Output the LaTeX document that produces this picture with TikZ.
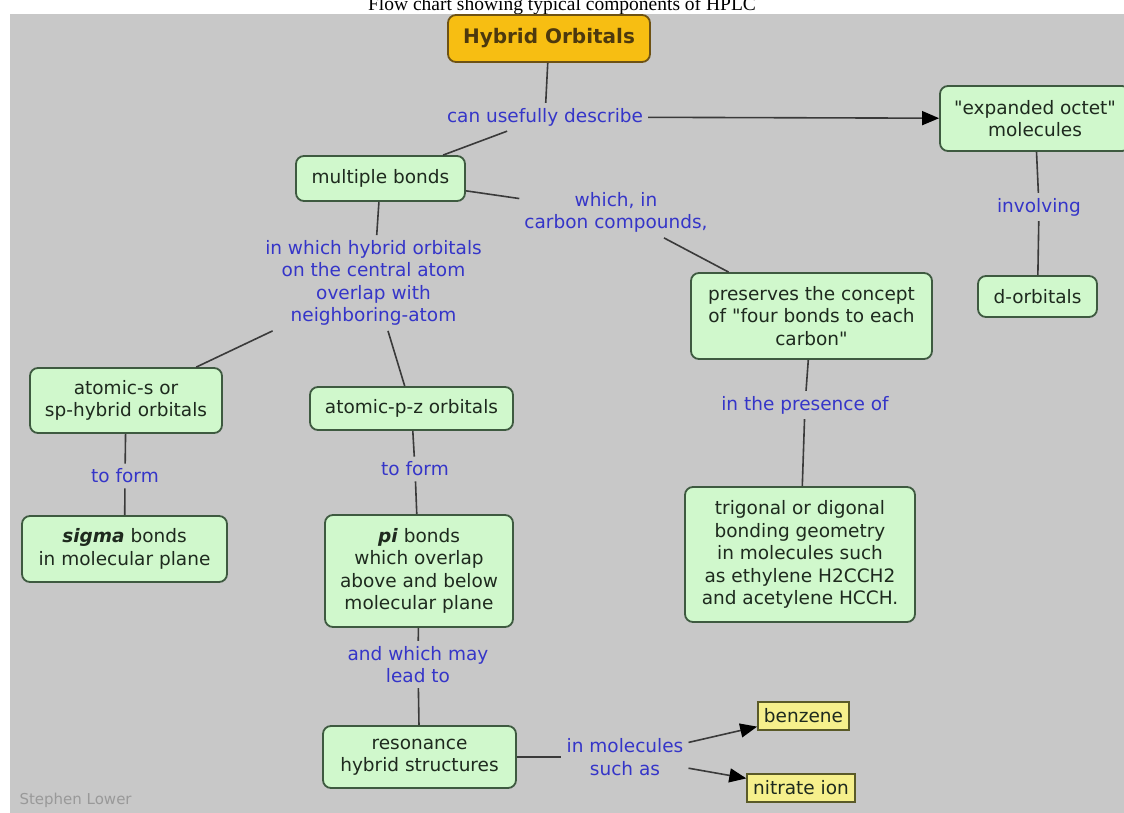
\documentclass[tikz,border=0pt]{standalone}
\usepackage{fontspec}
\setmainfont{DejaVu Sans}[Ligatures=TeXOff]
\newfontfamily\titlefont{Liberation Serif}
\usetikzlibrary{arrows.meta}
\definecolor{cbg}{HTML}{C8C8C8}
\definecolor{cgreen}{HTML}{D0F8CC}
\definecolor{cedge}{HTML}{3E5A40}
\definecolor{cblue}{HTML}{3535C8}
\definecolor{cink}{HTML}{1E2A1E}
\definecolor{corange}{HTML}{F7BE12}
\definecolor{cbrown}{HTML}{6E5214}
\definecolor{cyellow}{HTML}{F6F08C}
\definecolor{colive}{HTML}{5A5A28}
\definecolor{cline}{HTML}{3A3A3A}

\begin{document}
\begin{tikzpicture}[x=1pt,y=-1pt,>={Triangle[length=17pt,width=14pt,fill=black,color=black]},
  font=\fontsize{18.5}{22.5}\selectfont,
  concept/.style={draw=cedge,fill=cgreen,line width=1.8pt,rounded corners=8pt,text=cink,align=center,inner sep=2pt},
  topic/.style={draw=cbrown,fill=corange,line width=1.8pt,rounded corners=8pt,text=cbrown!70!black,font=\fontsize{20}{24}\selectfont\bfseries},
  example/.style={draw=colive,fill=cyellow,line width=1.6pt,text=cink,inner sep=6pt,minimum height=28pt},
  phrase/.style={text=cblue,align=center,inner sep=5pt},
  link/.style={draw=cline,line width=1.6pt}]

\useasboundingbox (0,0) rectangle (1124,813);
\fill[cbg] (10,14) rectangle (1124,813);
\node[anchor=base,font=\titlefont\fontsize{19.5}{22}\selectfont] (title) at (562,11) {Flow chart showing typical components of HPLC};

% ================= concepts =================
\node[topic,minimum width=202pt,minimum height=47pt] (hybrid) at (549,38.5) {Hybrid Orbitals};
\node[concept,minimum width=190pt,minimum height=65pt] (octet) at (1035,118.5) {"expanded octet"\\molecules};
\node[concept,minimum width=119pt,minimum height=41pt] (dorb) at (1037.5,296.5) {d-orbitals};
\node[concept,minimum width=169pt,minimum height=45pt] (multi) at (380.5,178.5) {multiple bonds};
\node[concept,minimum width=192pt,minimum height=65pt] (atomS) at (126,400.5) {atomic-s or\\sp-hybrid orbitals};
\node[concept,minimum width=203pt,minimum height=43pt] (atomP) at (411.5,408.5) {atomic-p-z orbitals};
\node[concept,minimum width=205pt,minimum height=66pt] (sigma) at (124.5,549) {\textbf{\textit{sigma}} bonds\\in molecular plane};
\node[concept,minimum width=188pt,minimum height=112pt] (pi) at (419,571) {\textbf{\textit{pi}} bonds\\which overlap\\above and below\\molecular plane};
\node[concept,minimum width=193pt,minimum height=62pt] (reson) at (419.5,757) {resonance\\hybrid structures};
\node[concept,minimum width=241pt,minimum height=86pt] (preserves) at (811.5,316) {preserves the concept\\of "four bonds to each\\carbon"};
\node[concept,minimum width=230pt,minimum height=135pt] (trigonal) at (800,554.5) {trigonal or digonal\\bonding geometry\\in molecules such\\as ethylene H2CCH2\\and acetylene HCCH.};
\node[example] (benzene) at (803.5,716) {benzene};
\node[example] (nitrate) at (801,788) {nitrate ion};

% ================= linking phrases =================
\node[phrase] (describe) at (545,117) {can usefully describe};
\node[phrase] (which) at (616,212.5) {which, in\\carbon compounds,};
\node[phrase] (inwhich) at (373.5,283) {in which hybrid orbitals\\on the central atom\\overlap with\\neighboring-atom};
\node[phrase] (formS) at (125,476) {to form};
\node[phrase] (formP) at (415,469) {to form};
\node[phrase] (presence) at (805,405) {in the presence of};
\node[phrase] (involving) at (1039,207) {involving};
\node[phrase] (maylead) at (418,664.5) {and which may\\lead to};
\node[phrase] (molecules) at (625,757) {in molecules\\such as};

\node[anchor=west,text=black!40,font=\fontsize{15}{18}\selectfont] (credit) at (16,800) {Stephen Lower};

% ================= links =================
\draw[link] (hybrid) -- (describe);
\draw[link,->] (describe) -- (octet);
\draw[link] (describe) -- (multi);
\draw[link] (multi) -- (which);
\draw[link] (which) -- (preserves);
\draw[link] (multi) -- (inwhich);
\draw[link] (inwhich) -- (atomS);
\draw[link] (inwhich) -- (atomP);
\draw[link] (atomS) -- (formS);
\draw[link] (formS) -- (sigma);
\draw[link] (atomP) -- (formP);
\draw[link] (formP) -- (pi);
\draw[link] (pi) -- (maylead);
\draw[link] (maylead) -- (reson);
\draw[link] (reson) -- (molecules);
\draw[link,->] (molecules) -- (benzene);
\draw[link,->] (molecules) -- (nitrate);
\draw[link] (preserves) -- (presence);
\draw[link] (presence) -- (trigonal);
\draw[link] (octet) -- (involving);
\draw[link] (involving) -- (dorb);
\end{tikzpicture}
\end{document}
